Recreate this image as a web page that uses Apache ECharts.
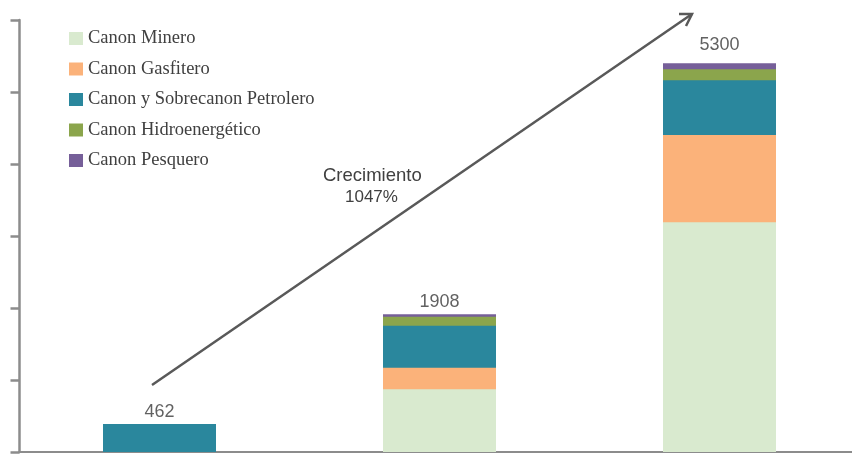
<!DOCTYPE html>
<html>
<head>
<meta charset="utf-8">
<script src="https://cdn.jsdelivr.net/npm/echarts@6/dist/echarts.min.js"></script>
<style>html,body{margin:0;padding:0;background:#fff}#c{width:852px;height:454px}</style>
</head>
<body>
<div id="c"></div>
<script>
var categories = ['A', 'B', 'C'];
var seriesNames = ['Canon Minero', 'Canon Gasfitero', 'Canon y Sobrecanon Petrolero', 'Canon Hidroenergético', 'Canon Pesquero'];
var canonMinero = [0, 871, 3190];
var canonGasfitero = [0, 300, 1213];
var canonPetrolero = [389, 583, 760];
var canonHidro = [0, 125, 153];
var canonPesquero = [0, 33, 83];
var totals = [462, 1908, 5300];
var growthText = ['Crecimiento', '1047%'];

var colors = ['#d9eacf', '#fbb27a', '#2a879d', '#8ba54c', '#765f99'];
var values = [canonMinero, canonGasfitero, canonPetrolero, canonHidro, canonPesquero];
var labelDistances = [3, 3, 9];

// cumulative stack tops per segment (stacking done here, drawn as overlapping bars)
var cumulative = values.map(function (arr, k) {
  return categories.map(function (c, i) {
    var s = 0;
    for (var j = 0; j <= k; j++) s += values[j][i];
    return s;
  });
});
var stackTops = cumulative[cumulative.length - 1];

var series = [];
for (var k = seriesNames.length - 1; k >= 0; k--) {
  series.push({
    name: seriesNames[k], type: 'bar', barWidth: 113, barGap: '-100%',
    itemStyle: { color: colors[k] },
    data: cumulative[k].map(function (v, i) { return [i, v]; })
  });
}
series.push({
  name: 'totals', type: 'scatter', symbolSize: 0, silent: true,
  data: stackTops.map(function (v, i) {
    return { value: [i, v], label: { distance: labelDistances[i] } };
  }),
  label: {
    show: true, position: 'top',
    fontFamily: 'Liberation Sans', fontSize: 18, color: '#3a3a3a',
    formatter: function (p) { return String(totals[p.dataIndex]); }
  }
});

var chart = echarts.init(document.getElementById('c'), null, { renderer: 'canvas' });
chart.setOption({
  animation: false,
  grid: { left: 19.5, top: 20, right: 0, height: 432 },
  legend: {
    data: seriesNames, orient: 'vertical', left: 64, top: 24,
    itemWidth: 14, itemHeight: 13, itemGap: 11.5,
    icon: 'rect',
    textStyle: { fontFamily: 'Liberation Serif', fontSize: 18.5, color: '#404040' }
  },
  xAxis: {
    type: 'value', min: -0.5, max: -0.5 + 832.5 / 280,
    axisLine: { show: true, onZero: false, lineStyle: { color: '#8c8c8c', width: 2 } },
    axisTick: { show: false }, axisLabel: { show: false }, splitLine: { show: false }
  },
  yAxis: {
    type: 'value', min: 0, max: 6000, interval: 1000,
    axisLine: { show: true, onZero: false, lineStyle: { color: '#8c8c8c', width: 2.5 } },
    axisTick: { show: true, length: 9, lineStyle: { color: '#8c8c8c', width: 2.5 } },
    axisLabel: { show: false }, splitLine: { show: false }
  },
  graphic: [
    { type: 'line', shape: { x1: 152, y1: 385, x2: 692, y2: 14 }, style: { stroke: '#595959', lineWidth: 2.5 } },
    { type: 'polyline', shape: { points: [[679, 14], [692, 14], [686, 26]] }, style: { stroke: '#595959', lineWidth: 2.5, fill: null } },
    { type: 'text', left: 323, top: 166, style: { text: growthText[0], font: '18.5px "Liberation Sans"', fill: '#404040' } },
    { type: 'text', left: 345, top: 189, style: { text: growthText[1], font: '17px "Liberation Sans"', fill: '#404040' } }
  ],
  series: series
});
</script>
</body>
</html>
